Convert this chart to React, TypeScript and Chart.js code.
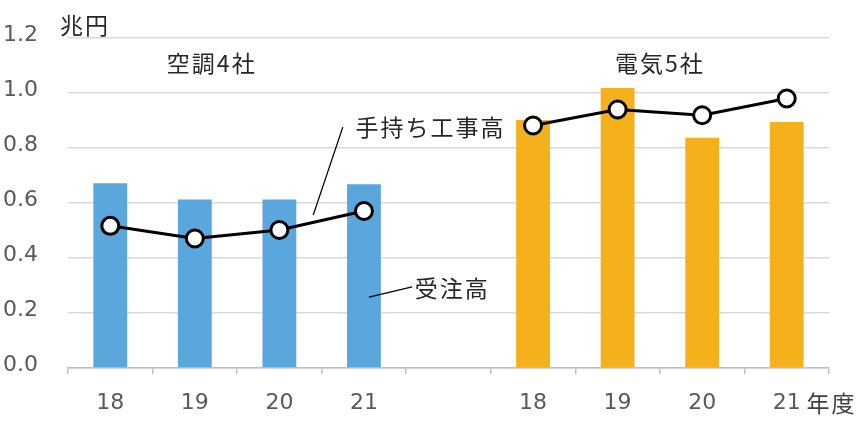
import React, { useEffect, useRef } from "react";
import { Chart, registerables } from "chart.js";

Chart.register(...registerables);

// ---- data ----
const categories: string[] = ["18", "19", "20", "21", "", "18", "19", "20", "21"];
const groupNames: string[] = ["空調4社", "電気5社"];
const ordersReceived: (number | null)[] = [0.672, 0.613, 0.613, 0.668, null, 0.902, 1.018, 0.837, 0.895];
const backlog: (number | null)[] = [0.517, 0.471, 0.502, 0.571, null, 0.882, 0.94, 0.919, 0.98];
const seriesNames: string[] = ["受注高", "手持ち工事高"];
const yMin = 0;
const yMax = 1.2;
const yStep = 0.2;
const unitLabel = "兆円";
const xUnitLabel = "年度";

const BLUE = "#5AA7DE";
const ORANGE = "#F4B11C";
const CJK = '"Noto Sans CJK JP", "Noto Sans", sans-serif';
const NUM = '"DejaVu Sans", sans-serif';

const barColors = ordersReceived.map((_, i) => (i < 4 ? BLUE : ORANGE));

const annotationPlugin = {
  id: "annot",
  afterDraw(chart: any) {
    const ctx = chart.ctx as CanvasRenderingContext2D;
    const xs = chart.scales.x;
    const ys = chart.scales.y;
    const px = (i: number) => xs.getPixelForValue(i);
    const py = (v: number) => ys.getPixelForValue(v);
    ctx.save();
    ctx.fillStyle = "#262626";
    ctx.textBaseline = "middle";
    (ctx as any).letterSpacing = "2px";
    ctx.font = `23px ${CJK}`;
    // unit
    ctx.textAlign = "left";
    ctx.fillText(unitLabel, px(-0.595), py(1.247));
    // group titles
    ctx.textAlign = "center";
    ctx.fillText(groupNames[0], px(1.2), py(1.109));
    ctx.fillText(groupNames[1], px(6.5), py(1.109));
    // series labels
    ctx.textAlign = "left";
    ctx.fillText(seriesNames[1], px(2.9), py(0.876));
    ctx.fillText(seriesNames[0], px(3.6), py(0.291));
    // x unit
    ctx.fillStyle = "#404040";
    ctx.fillText(xUnitLabel, px(8.235), py(-0.127));
    (ctx as any).letterSpacing = "0px";
    // leader lines
    ctx.strokeStyle = "#000";
    ctx.lineWidth = 1.3;
    ctx.beginPath();
    ctx.moveTo(px(2.75), py(0.876));
    ctx.lineTo(px(2.4), py(0.556));
    ctx.moveTo(px(3.06), py(0.258));
    ctx.lineTo(px(3.57), py(0.295));
    ctx.stroke();
    ctx.restore();
  },
};

export default function App() {
  const ref = useRef<HTMLCanvasElement | null>(null);
  useEffect(() => {
    if (!ref.current) return;
    const chart = new Chart(ref.current, {
      type: "bar",
      data: {
        labels: categories,
        datasets: [
          {
            type: "line",
            label: seriesNames[1],
            data: backlog,
            borderColor: "#000",
            borderWidth: 3,
            pointRadius: 8.5,
            pointBackgroundColor: "#fff",
            pointBorderColor: "#000",
            pointBorderWidth: 3,
            spanGaps: false,
            tension: 0,
            order: 0,
          } as any,
          {
            type: "bar",
            label: seriesNames[0],
            data: ordersReceived,
            backgroundColor: barColors,
            barPercentage: 0.4,
            categoryPercentage: 1,
            order: 1,
          },
        ],
      },
      options: {
        animation: false,
        responsive: true,
        maintainAspectRatio: false,
        layout: { padding: { top: 38, right: 35, left: 3, bottom: 0 } },
        plugins: {
          legend: { display: false },
          tooltip: { enabled: false },
        },
        scales: {
          x: {
            offset: true,
            grid: {
              offset: true,
              drawOnChartArea: false,
              drawTicks: true,
              tickLength: 6,
              color: "#bfbfbf",
              lineWidth: 1.5,
            },
            border: { display: true, color: "#bfbfbf", width: 1.5 },
            ticks: {
              padding: 16,
              color: "#595959",
              font: { family: NUM, size: 22 },
              maxRotation: 0,
              autoSkip: false,
            },
            afterFit: (s: any) => {
              s.height = 59;
            },
          },
          y: {
            min: yMin,
            max: yMax,
            ticks: {
              stepSize: yStep,
              padding: 0,
              crossAlign: "far",
              labelOffset: -3,
              color: "#595959",
              font: { family: NUM, size: 22 },
              callback: (v: any) => Number(v).toFixed(1),
            },
            grid: { color: "#d9d9d9", lineWidth: 1.5, drawTicks: false },
            border: { display: false },
            afterFit: (s: any) => {
              s.width = 65;
            },
          },
        },
      },
      plugins: [annotationPlugin],
    });
    return () => chart.destroy();
  }, []);
  return (
    <div style={{ position: "fixed", left: 0, top: 0, width: 864, height: 427, background: "#fff" }}>
      <canvas ref={ref} />
    </div>
  );
}
